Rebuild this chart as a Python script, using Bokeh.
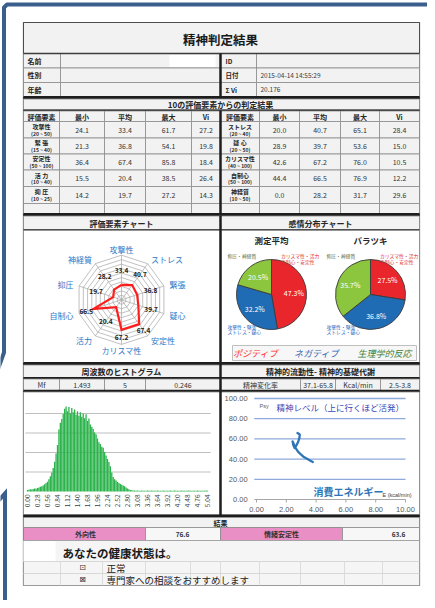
import math
from bokeh.plotting import figure
from bokeh.models import Range1d
from bokeh.core.properties import value
from bokeh.embed import file_html
from bokeh.resources import INLINE

JP = "Noto Sans CJK JP"

# ------------------------------------------------------------------ data
title_text = "精神判定結果"
info_labels_left = ["名前", "性別", "年齢"]
info_labels_right = ["ID", "日付", "Σ Vi"]
info_values_right = ["", "2015-04-14 14:55:29", "20.176"]

section_title = "10の評価要素からの判定結果"
table_headers = ["評価要素", "最小", "平均", "最大", "Vi"]
left_factors = ["攻撃性", "緊 張", "安定性", "活 力", "抑 圧"]
left_ranges = ["(20 ~ 50)", "(15 ~ 40)", "(50 ~ 100)", "(10 ~ 40)", "(10 ~ 25)"]
left_min = [24.1, 21.3, 36.4, 15.5, 14.2]
left_avg = [33.4, 36.8, 67.4, 20.4, 19.7]
left_max = [61.7, 54.1, 85.8, 38.5, 27.2]
left_vi = [27.2, 19.8, 18.4, 26.4, 14.3]
right_factors = ["ストレス", "疑 心", "カリスマ性", "自制心", "神経質"]
right_ranges = ["(20 ~ 40)", "(20 ~ 50)", "(40 ~ 100)", "(50 ~ 100)", "(10 ~ 50)"]
right_min = [20.0, 28.9, 42.6, 44.4, 0.0]
right_avg = [40.7, 39.7, 67.2, 66.5, 28.2]
right_max = [65.1, 53.6, 76.0, 76.9, 31.7]
right_vi = [28.4, 15.0, 10.5, 12.2, 29.6]

radar_title = "評価要素チャート"
radar_axes = ["攻撃性", "ストレス", "緊張", "疑心", "安定性", "カリスマ性", "活力", "自制心", "抑圧", "神経質"]
radar_values = [33.4, 40.7, 36.8, 39.7, 67.4, 67.2, 20.4, 66.5, 19.7, 28.2]
radar_rings = [10, 20, 30, 40, 50, 60, 70, 80, 90, 100]

pie_section_title = "感情分布チャート"
pie_titles = ["測定平均", "バラツキ"]
pie_avg = [47.3, 32.2, 20.5]      # positive, negative, physiological
pie_var = [27.5, 36.8, 35.7]
pie_colors = ["#e8262b", "#1f6cb5", "#8cc63f"]
pie_pos_labels = ["カリスマ性・活力", "自制心・安定性"]
pie_neg_labels = ["攻撃性・緊張", "ストレス・疑心"]
pie_phys_labels = ["抑圧・神経質"]
legend_labels = ["ポジティブ", "ネガティブ", "生理学的反応"]
legend_colors = ["#ff2b2b", "#2f5fb3", "#3d7f3a"]

hist_title = "周波数のヒストグラム"
mf_row = ["Mf", "1.493", "5", "0.246"]
hist_bin_width = 0.04
hist_counts = [
    8, 9, 11, 10, 13, 15, 14, 18, 21, 24, 27, 31, 37, 44, 50, 63, 78, 97, 120, 152,
    195, 238, 318, 352, 372,
    398, 424, 436, 412, 433, 401, 428, 406, 420, 394, 412, 388, 406, 383, 400,
    376, 396, 362, 374, 343, 332, 320, 302, 294, 272,
    252, 244, 230, 224, 203, 185, 167, 151, 130, 98, 74, 63, 56, 49, 43, 39, 35, 31,
    27, 21, 15, 11, 8, 6, 5,
    5, 4, 5, 4, 4, 5, 4, 4, 4, 5, 4, 4, 5, 4, 4, 4, 5, 4, 4, 4,
    5, 4, 4, 4, 4, 5, 4, 4, 5, 4, 4, 4, 4, 5, 4, 4, 4, 4, 5, 4,
    4, 4, 4, 4, 5, 4, 4, 4, 4, 4, 5, 4,
]
hist_tick_labels = ["0.00", "0.28", "0.56", "0.84", "1.12", "1.40", "1.68", "1.96", "2.24",
                    "2.52", "2.80", "3.08", "3.36", "3.64", "3.92", "4.20", "4.48", "4.76", "5.04"]
hist_grid = [100, 200, 300, 400]

flow_title = "精神的流動性- 精神的基礎代謝"
flow_row = ["精神変化率", "37.1-65.8", "Kcal/min", "2.5-3.8"]
flow_energy = [2.75, 2.90, 2.88, 2.80, 2.68, 2.56, 2.47, 2.42, 2.50, 2.64, 2.80, 2.98, 3.18, 3.42, 3.62, 3.78]
flow_psy = [65.8, 64.3, 61.0, 57.2, 53.6, 51.0, 54.0, 57.6, 55.0, 50.6, 47.2, 44.6, 42.0, 40.0, 38.4, 37.1]
flow_x_ticks = [0, 2, 4, 6, 8, 10]
flow_y_ticks = [0, 20, 40, 60, 80, 100]
flow_y_label = "精神レベル（上に行くほど活発）"
flow_x_label = "消費エネルギー"

result_title = "結果"
result_labels = ["外向性", "情緒安定性"]
result_values = [76.6, 63.6]
health_question = "あなたの健康状態は。"
health_options = ["正常", "専門家への相談をおすすめします"]
health_marks = ["⊡", "⊠"]

# ------------------------------------------------------------------ helpers
X0, X1, YTOP, YBOT = 8, 435, 8, 608


def Y(py):
    return YBOT - py


def sub_range(d0, d1, p0, p1, P0, P1):
    k = (d1 - d0) / (p1 - p0)
    return Range1d(start=d0 + (P0 - p0) * k, end=d0 + (P1 - p0) * k)


p = figure(width=427, height=600, x_range=Range1d(X0, X1), y_range=Range1d(0, 600),
           output_backend="svg", toolbar_location=None,
           x_axis_location=None, y_axis_location=None, min_border=0,
           outline_line_color=None, background_fill_color="white", border_fill_color="white")
p.xgrid.visible = False
p.ygrid.visible = False

# chart coordinate systems (library scales)
RCX, RCY, RR = 129, 307.3, 44.6
p.extra_x_ranges = {
    "rx": sub_range(0, 100, RCX, RCX + RR, X0, X1),
    "hx": sub_range(0, 5.04, 35, 215, X0, X1),
    "lx": sub_range(0, 10, 264, 413, X0, X1),
}
p.extra_y_ranges = {
    "ry": sub_range(0, 100, Y(RCY), Y(RCY) + RR, 0, 600),
    "hy": sub_range(0, 400, Y(499), Y(421), 0, 600),
    "ly": sub_range(0, 100, Y(507), Y(406), 0, 600),
}


def box(x0, x1, y0, y1, fill="#f2f2f2", line="#8c8c8c", lw=0.8):
    p.quad(left=x0, right=x1, top=Y(y0), bottom=Y(y1), fill_color=fill,
           line_color=line, line_width=lw)


def hline(x0, x1, yy, color="#1e1e1e", lw=2.5):
    p.segment(x0=x0, y0=Y(yy), x1=x1, y1=Y(yy), line_color=color, line_width=lw)


def vline(xx, y0, y1, color="#1e1e1e", lw=2.5):
    p.segment(x0=xx, y0=Y(y0), x1=xx, y1=Y(y1), line_color=color, line_width=lw)


def txt(x, y, s, size=7, color="#262626", align="center", style="normal", font=JP,
        angle=0, baseline="middle", xr="default", yr="default", page_y=True):
    yy = Y(y) if page_y else y
    p.text(x=[x], y=[yy], text=[s], text_font=value(font), text_font_size=f"{size}px",
           text_color=color, text_align=align, text_baseline=baseline,
           text_font_style=style, angle=angle, x_range_name=xr, y_range_name=yr)


# ------------------------------------------------------------------ page
box(31, 427, 30, 593, fill="#ffffff", line="#4d4d4d", lw=1.2)

# title
box(31, 427, 30, 61, fill="#f2f2f2", line="#4d4d4d", lw=1)
txt(228, 46.5, title_text, size=12.5, style="bold", color="#1a1a1a")

# info rows
info_rows = [(61, 75.5), (75.5, 90), (90, 104)]
for i, (a, b) in enumerate(info_rows):
    box(31, 68, a, b)
    box(68, 228, a, b)
    box(228, 264, a, b)
    box(264, 427, a, b)
    txt(35, (a + b) / 2, info_labels_left[i], size=7, style="bold", align="left")
    txt(233, (a + b) / 2, info_labels_right[i], size=6.5, style="bold", align="left")
    txt(268, (a + b) / 2, info_values_right[i], size=6.5, align="left", color="#3a3a3a")
p.quad(left=177, right=223, top=Y(62.5), bottom=Y(74.5), fill_color="white", line_color=None)
hline(31, 427, 61, color="#3c3c3c", lw=1.5)
vline(228, 61, 104, lw=2.5)
hline(31, 427, 105, lw=3)

# section header
box(31, 427, 106.5, 117.5)
txt(228, 112, section_title, size=8, style="bold")
hline(31, 427, 118, lw=2)

# tables
left_cols = [31, 67, 112, 153, 199, 228]
right_cols = [228, 267, 307, 348, 387, 427]
row_b = [129, 145.5, 161.5, 177.5, 194, 211]
for cols in (left_cols, right_cols):
    for j in range(5):
        box(cols[j], cols[j + 1], 118.5, 129)
        txt((cols[j] + cols[j + 1]) / 2, 124, table_headers[j], size=7, style="bold")

for side, cols, facs, rngs, cols_data in (
        ("L", left_cols, left_factors, left_ranges, (left_min, left_avg, left_max, left_vi)),
        ("R", right_cols, right_factors, right_ranges, (right_min, right_avg, right_max, right_vi))):
    for i in range(5):
        a, b = row_b[i], row_b[i + 1]
        for j in range(5):
            box(cols[j], cols[j + 1], a, b)
        c = (a + b) / 2
        txt((cols[0] + cols[1]) / 2, c - 3.2, facs[i], size=6, style="bold")
        txt((cols[0] + cols[1]) / 2, c + 3.6, rngs[i], size=5, style="bold")
        for j in range(4):
            txt((cols[j + 1] + cols[j + 2]) / 2, c, f"{cols_data[j][i]:.1f}", size=7, color="#333333")
    for j in range(5):
        box(cols[j], cols[j + 1], 211, 221.5)
vline(228, 118, 222, lw=2.5)
hline(31, 427, 222, lw=3)

# chart headers
box(31, 228, 223.5, 237)
box(228, 427, 223.5, 237)
txt(129, 230.5, radar_title, size=8, style="bold")
txt(328, 230.5, pie_section_title, size=8, style="bold")
hline(31, 427, 237.5, color="#333333", lw=1.5)
box(31, 228, 238, 370, fill="white")
box(228, 427, 238, 370, fill="white")
vline(228, 223, 371, lw=2.5)

# ------------------------------------------------------------------ radar
n = len(radar_axes)
angs = [2 * math.pi * k / n for k in range(n)]
ring_xs = [[r * math.sin(a) for a in angs] for r in radar_rings]
ring_ys = [[r * math.cos(a) for a in angs] for r in radar_rings]
p.patches(xs=ring_xs, ys=ring_ys, fill_alpha=0, line_color="#a6a6a6", line_width=0.7,
          x_range_name="rx", y_range_name="ry")
rmax = radar_rings[-1]
p.segment(x0=[0] * n, y0=[0] * n, x1=[rmax * math.sin(a) for a in angs],
          y1=[rmax * math.cos(a) for a in angs], line_color="#a6a6a6", line_width=0.7,
          x_range_name="rx", y_range_name="ry")
vx = [v * math.sin(a) for v, a in zip(radar_values, angs)]
vy = [v * math.cos(a) for v, a in zip(radar_values, angs)]
p.line(x=vx + vx[:1], y=vy + vy[:1], line_color="#ff1e1e", line_width=2.2,
       line_join="miter", x_range_name="rx", y_range_name="ry")
for lab, v, a in zip(radar_axes, radar_values, angs):
    s = math.sin(a)
    al = "left" if s > 0.3 else ("right" if s < -0.3 else "center")
    txt(113 * s, 113 * math.cos(a), lab, size=8, color="#2a78c8", align=al,
        xr="rx", yr="ry", page_y=False)
    rl = v * 0.5 + 50
    txt(rl * s, rl * math.cos(a), f"{v:.1f}", size=6.5, style="bold", color="#1a1a1a",
        xr="rx", yr="ry", page_y=False)

# ------------------------------------------------------------------ pies
pie_centers = [(279, 302), (378, 302)]
PR = 35
for (cx, cy), title, vals in zip(pie_centers, pie_titles, (pie_avg, pie_var)):
    txt(cx, 247, title, size=8.5, style="bold")
    tot = sum(vals)
    cum = 0.0
    for v, col in zip(vals, pie_colors):
        a0 = math.pi / 2 - 2 * math.pi * cum / tot
        a1 = math.pi / 2 - 2 * math.pi * (cum + v) / tot
        p.wedge(x=cx, y=Y(cy), radius=PR, start_angle=a0, end_angle=a1, direction="clock",
                fill_color=col, line_color="#3a3a3a", line_width=0.9)
        mid = 2 * math.pi * (cum + v / 2) / tot
        txt(cx + 0.64 * PR * math.sin(mid), cy - 0.64 * PR * math.cos(mid), f"{v:.1f}%",
            size=7, color="white")
        cum += v
    txt(cx - 44, 263, pie_phys_labels[0], size=4.8, color="#5d6b3c", align="left")
    txt(cx + 9.5, 263, pie_pos_labels[0], size=4.8, color="#e02525", align="left")
    txt(cx + 9.5, 268.5, pie_pos_labels[1], size=4.8, color="#e02525", align="left")
    txt(cx - 44, 333.5, pie_neg_labels[0], size=4.8, color="#2060c0", align="left")
    txt(cx - 44, 339.2, pie_neg_labels[1], size=4.8, color="#2060c0", align="left")

box(240, 424, 353, 368, fill="#f7f7f7", line="#bfbfbf", lw=1)
for lab, col, xx in zip(legend_labels, legend_colors, (263, 324, 392)):
    txt(xx, 361, lab, size=9, color=col, style="italic")

# ------------------------------------------------------------------ histogram section
hline(31, 427, 371, lw=3)
box(31, 228, 372.5, 385)
box(228, 427, 372.5, 385)
txt(129, 379, hist_title, size=8, style="bold")
txt(328, 379, flow_title, size=8, style="bold")
hline(31, 427, 385.5, lw=2)
mf_cols = [31, 67, 112, 153, 228]
for j in range(4):
    box(mf_cols[j], mf_cols[j + 1], 386.5, 398)
    txt((mf_cols[j] + mf_cols[j + 1]) / 2, 392.5, mf_row[j], size=7, color="#333333")
fl_cols = [228, 308, 343, 388, 427]
for j in range(4):
    box(fl_cols[j], fl_cols[j + 1], 386.5, 398)
    txt((fl_cols[j] + fl_cols[j + 1]) / 2, 392.5, flow_row[j], size=7, color="#333333")
hline(31, 427, 398.5, lw=2.5)
box(31, 228, 399.5, 522.5, fill="white")
box(228, 427, 399.5, 522.5, fill="white")
vline(228, 371, 523, lw=2.5)
hline(31, 427, 523.5, lw=3)

# histogram
p.segment(x0=[-0.06] * len(hist_grid), y0=hist_grid, x1=[5.13] * len(hist_grid), y1=hist_grid,
          line_color="#bfbfbf", line_width=1, x_range_name="hx", y_range_name="hy")
centers = [hist_bin_width * (i + 0.5) - hist_bin_width / 2 for i in range(len(hist_counts))]
p.vbar(x=centers, top=hist_counts, bottom=0, width=hist_bin_width * 0.92,
       fill_color="#2db34c", line_color=None, x_range_name="hx", y_range_name="hy")
for lab in hist_tick_labels:
    p.text(x=[float(lab)], y=[Y(502)], text=[lab], text_font=value(JP),
           text_font_size="6.5px", text_color="#404040", text_align="right",
           text_baseline="middle", angle=math.pi / 2, x_range_name="hx")

# line chart
gy = [t for t in flow_y_ticks if t > 0]
p.segment(x0=[-0.15] * len(gy), y0=gy, x1=[10] * len(gy), y1=gy, line_color="#8ea9db",
          line_width=1.3, x_range_name="lx", y_range_name="ly")
p.segment(x0=[-0.15], y0=[0], x1=[10], y1=[0], line_color="#a6a6a6", line_width=1,
          x_range_name="lx", y_range_name="ly")
p.segment(x0=flow_x_ticks, y0=[0] * len(flow_x_ticks), x1=flow_x_ticks,
          y1=[-3] * len(flow_x_ticks), line_color="#a6a6a6", line_width=1,
          x_range_name="lx", y_range_name="ly")
for t in flow_y_ticks:
    txt(-0.6, t, f"{t:.2f}", size=7.5, color="#595959", align="right",
        font="Liberation Sans", xr="lx", yr="ly", page_y=False)
for t in flow_x_ticks:
    txt(t, -10, f"{t:.2f}", size=7.5, color="#595959", font="Liberation Sans",
        xr="lx", yr="ly", page_y=False)
p.line(x=flow_energy, y=flow_psy, line_color="#2e75b6", line_width=2.3,
       line_join="round", line_cap="round", x_range_name="lx", y_range_name="ly")
txt(267, 413.5, "Psy", size=5.5, color="#595959", align="left", font="Liberation Sans")
txt(284, 414, flow_y_label, size=8.5, color="#3b48b8", align="left")
txt(321, 498.5, flow_x_label, size=10, color="#2e75b6", align="left", style="bold")
txt(390, 502, "E (kcal/min)", size=5.5, color="#404040", align="left", font="Liberation Sans")

# ------------------------------------------------------------------ results
box(31, 427, 525, 535)
txt(228, 530.5, result_title, size=7, style="bold")
pink = "#e98fc5"
box(31, 153, 535, 548, fill=pink)
box(153, 228, 535, 548, fill="#f7f7f7")
box(228, 350, 535, 548, fill=pink)
box(350, 427, 535, 548, fill="#f7f7f7")
txt(93, 541.5, result_labels[0], size=7, style="bold", color="#333333")
txt(190, 541.5, f"{result_values[0]:.1f}", size=6.5, style="bold", color="#333333")
txt(289, 541.5, result_labels[1], size=7, style="bold", color="#333333")
txt(406, 541.5, f"{result_values[1]:.1f}", size=6.5, style="bold", color="#333333")

box(31, 427, 548, 593, fill="#f5f5f5", line="#9a9a9a", lw=0.8)
box(31, 63, 548.5, 569, fill="white", line=None)
for yy in (569, 581):
    hline(31, 427, yy, color="#d0d0d0", lw=0.8)
for xx in (68, 110, 153, 198, 228, 267, 308, 352, 390):
    vline(xx, 569, 593, color="#d6d6d6", lw=0.8)
txt(70, 560.5, health_question, size=11.5, style="bold", align="left", color="#1a1a1a")
for i, (mk, opt) in enumerate(zip(health_marks, health_options)):
    yy = 575 + 12 * i
    txt(90, yy, mk, size=8, font="DejaVu Sans", color="#333333")
    txt(114, yy, opt, size=9.5, align="left", color="#1a1a1a")

# ------------------------------------------------------------------ blue frame
FRAME = "#3b5f8c"
p.line(x=[0, 11.5, 11.5, 14.5, 440], y=[Y(392), Y(360), Y(15), Y(12), Y(12)],
       line_color=FRAME, line_width=4, line_join="round")
p.line(x=[0, 12.5, 12.5], y=[Y(515), Y(501), Y(615)], line_color=FRAME, line_width=4,
       line_join="miter")

open("out.html", "w").write(file_html(p, INLINE))
